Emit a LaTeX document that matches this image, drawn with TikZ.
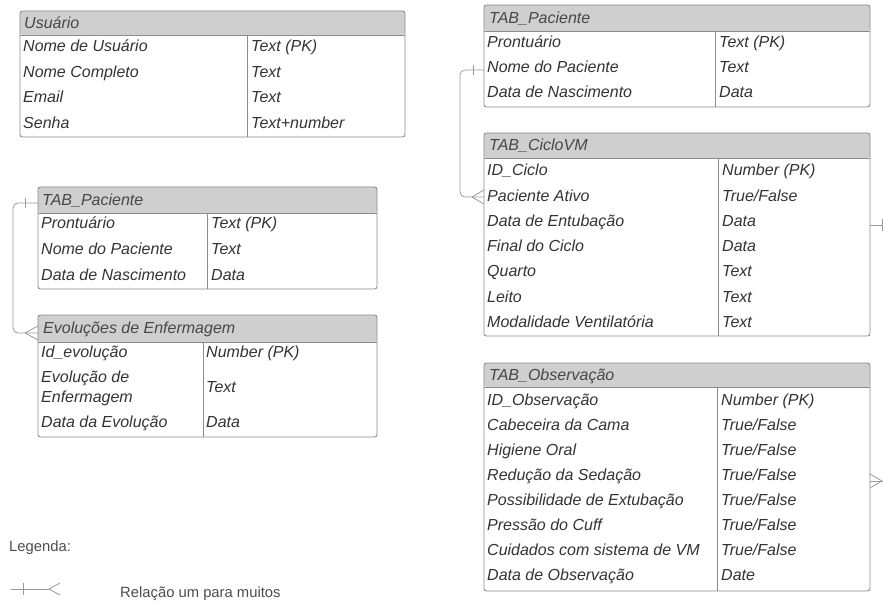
\documentclass[tikz,border=0pt]{standalone}
\usepackage{fontspec}
\setmainfont{Liberation Sans}
\definecolor{bordc}{HTML}{8C8C8C}
\definecolor{hdrc}{HTML}{CFCFCF}
\definecolor{txtc}{HTML}{333333}
\definecolor{connc}{HTML}{9A9A9A}
\tikzset{
  tblbox/.style={draw=bordc, line width=0.9pt, rounded corners=2.5pt, anchor=north west, inner sep=0pt, outer sep=0pt},
  hdrbox/.style={fill=hdrc, rounded corners=2.5pt, anchor=north west, inner sep=0pt, outer sep=0pt},
  tline/.style={draw=bordc, line width=0.9pt},
  cell/.style={anchor=west, inner sep=0pt, text height=12pt, text depth=0.6pt, text=txtc, font=\fontsize{16}{20}\selectfont\itshape},
  htext/.style={cell, text=black!72},
  conn/.style={draw=connc, line width=0.8pt, rounded corners=5pt},
  connmark/.style={draw=connc, line width=0.8pt},
  legtext/.style={anchor=west, inner sep=0pt, text height=11pt, text depth=0.6pt, text=black!70, font=\fontsize{14.8}{17}\selectfont},
}
\begin{document}
\begin{tikzpicture}[x=1pt,y=-1pt]
\useasboundingbox (0,0) rectangle (883,604);

% ---------- Usuario ----------
\node[hdrbox, minimum width=385pt, minimum height=24pt] (usu-h) at (20,11) {};
\node[tblbox, minimum width=385pt, minimum height=126pt] (usu) at (20,11) {};
\draw[tline] (20,35) -- (405,35);
\draw[tline] (247,35) -- (247,137);
\node[htext] (usu-t) at (24,23) {Usuário};
\foreach \a/\b [count=\i] in {Nome de Usuário/Text (PK), Nome Completo/Text, Email/Text, Senha/Text+number}{
  \node[cell] (usu-r\i) at (23,{46+(\i-1)*25.6}) {\a};
  \node[cell] (usu-v\i) at (251,{46+(\i-1)*25.6}) {\b};
}

% ---------- TAB_Paciente (left) ----------
\node[hdrbox, minimum width=339pt, minimum height=26pt] (pl-h) at (38,187) {};
\node[tblbox, minimum width=339pt, minimum height=102pt] (pl) at (38,187) {};
\draw[tline] (38,213) -- (377,213);
\draw[tline] (207,213) -- (207,289);
\node[htext] (pl-t) at (42,200) {TAB\_Paciente};
\foreach \a/\b [count=\i] in {Prontuário/Text (PK), Nome do Paciente/Text, Data de Nascimento/Data}{
  \node[cell] (pl-r\i) at (41,{223+(\i-1)*26}) {\a};
  \node[cell] (pl-v\i) at (211,{223+(\i-1)*26}) {\b};
}

% ---------- Evolucoes de Enfermagem ----------
\node[hdrbox, minimum width=339pt, minimum height=27pt] (ev-h) at (38,315) {};
\node[tblbox, minimum width=339pt, minimum height=122pt] (ev) at (38,315) {};
\draw[tline] (38,342) -- (377,342);
\draw[tline] (203,342) -- (203,437);
\node[htext] (ev-t) at (43,328) {Evoluções de Enfermagem};
\node[cell] (ev-r1) at (41,352) {Id\_evolução};
\node[cell] (ev-v1) at (206,352) {Number (PK)};
\node[cell, align=left, text height=32pt] (ev-r2) at (41,387) {Evolução de\\Enfermagem};
\node[cell] (ev-v2) at (206,387) {Text};
\node[cell] (ev-r3) at (41,422) {Data da Evolução};
\node[cell] (ev-v3) at (206,422) {Data};

% ---------- TAB_Paciente (right) ----------
\node[hdrbox, minimum width=386pt, minimum height=26pt] (pr-h) at (484,5) {};
\node[tblbox, minimum width=386pt, minimum height=102pt] (pr) at (484,5) {};
\draw[tline] (484,31) -- (870,31);
\draw[tline] (715,31) -- (715,107);
\node[htext] (pr-t) at (489,18) {TAB\_Paciente};
\foreach \a/\b [count=\i] in {Prontuário/Text (PK), Nome do Paciente/Text, Data de Nascimento/Data}{
  \node[cell] (pr-r\i) at (487,{42+(\i-1)*25}) {\a};
  \node[cell] (pr-v\i) at (719,{42+(\i-1)*25}) {\b};
}

% ---------- TAB_CicloVM ----------
\node[hdrbox, minimum width=386pt, minimum height=25pt] (cv-h) at (484,133) {};
\node[tblbox, minimum width=386pt, minimum height=203pt] (cv) at (484,133) {};
\draw[tline] (484,158) -- (870,158);
\draw[tline] (718,158) -- (718,336);
\node[htext] (cv-t) at (489,145) {TAB\_CicloVM};
\foreach \a/\b [count=\i] in {ID\_Ciclo/Number (PK), Paciente Ativo/True{/}False, Data de Entubação/Data, Final do Ciclo/Data, Quarto/Text, Leito/Text, Modalidade Ventilatória/Text}{
  \node[cell] (cv-r\i) at (487,{170+(\i-1)*25.3}) {\a};
  \node[cell] (cv-v\i) at (722,{170+(\i-1)*25.3}) {\b};
}

% ---------- TAB_Observacao ----------
\node[hdrbox, minimum width=386pt, minimum height=24pt] (ob-h) at (484,363) {};
\node[tblbox, minimum width=386pt, minimum height=228pt] (ob) at (484,363) {};
\draw[tline] (484,387) -- (870,387);
\draw[tline] (717,387) -- (717,591);
\node[htext] (ob-t) at (489,375) {TAB\_Observação};
\foreach \a/\b [count=\i] in {ID\_Observação/Number (PK), Cabeceira da Cama/True{/}False, Higiene Oral/True{/}False, Redução da Sedação/True{/}False, Possibilidade de Extubação/True{/}False, Pressão do Cuff/True{/}False, Cuidados com sistema de VM/True{/}False, Data de Observação/Date}{
  \node[cell] (ob-r\i) at (487,{400+(\i-1)*25}) {\a};
  \node[cell] (ob-v\i) at (721,{400+(\i-1)*25}) {\b};
}

% ---------- connectors ----------
% left: TAB_Paciente -> Evolucoes
\coordinate (plA) at (pl.west |- 0,203);
\coordinate (evA) at (ev.west |- 0,333);
\draw[conn] (plA) -- ++(-25,0) |- (evA);
\draw[connmark] ([xshift=-13pt,yshift=5pt]plA) -- ([xshift=-13pt,yshift=-5pt]plA);
\draw[connmark] ([xshift=-13pt]evA) -- ([yshift=7pt]evA);
\draw[connmark] ([xshift=-13pt]evA) -- ([yshift=-7pt]evA);

% right: TAB_Paciente -> TAB_CicloVM
\coordinate (prA) at (pr.west |- 0,70);
\coordinate (cvA) at (cv.west |- 0,197);
\draw[conn] (prA) -- ++(-24,0) |- (cvA);
\draw[connmark] ([xshift=-11pt,yshift=5pt]prA) -- ([xshift=-11pt,yshift=-5pt]prA);
\draw[connmark] ([xshift=-12pt]cvA) -- ([yshift=7pt]cvA);
\draw[connmark] ([xshift=-12pt]cvA) -- ([yshift=-7pt]cvA);

% stubs leaving on the right
\coordinate (cvB) at (cv.east |- 0,225);
\coordinate (cvBend) at (883,225);
\draw[connmark] (cvB) -- (cvBend);
\draw[connmark] ([xshift=12pt,yshift=6pt]cvB) -- ([xshift=12pt,yshift=-6pt]cvB);
\coordinate (obB) at (ob.east |- 0,481);
\coordinate (obBend) at (883,481);
\draw[connmark] (obB) -- (obBend);
\draw[connmark] ([xshift=12pt]obB) -- ([yshift=7pt]obB);
\draw[connmark] ([xshift=12pt]obB) -- ([yshift=-7pt]obB);

% ---------- legend ----------
\node[legtext] (leg) at (9,546) {Legenda:};
\coordinate (lgA) at (11,589);
\coordinate (lgB) at (49,589);
\draw[connmark] (lgA) -- (lgB);
\draw[connmark] (23,583) -- (23,595);
\draw[connmark] (lgB) -- (60,583);
\draw[connmark] (lgB) -- (60,595);
\node[legtext] (legr) at (120,592) {Relação um para muitos};
\end{tikzpicture}
\end{document}
